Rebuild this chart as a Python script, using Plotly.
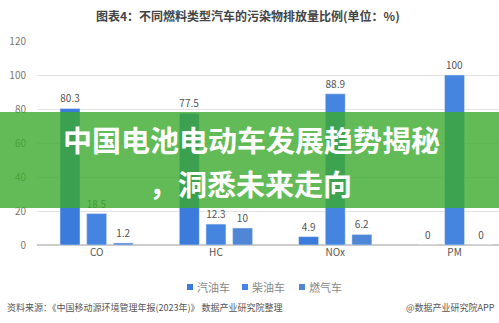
import plotly.graph_objects as go

categories = ["CO", "HC", "NOx", "PM"]
series_names = ["汽油车", "柴油车", "燃气车"]
gasoline = [80.3, 77.5, 4.9, 0]
diesel = [18.5, 12.3, 88.9, 100]
gas = [1.2, 10, 6.2, 0]
colors = ["#3a7bdc", "#4585e0", "#4f87d6"]
y_ticks = [0, 20, 40, 60, 80, 100, 120]

W, H = 499, 323
L, R, T, B = 37, 0, 41, 78
pw, ph = W - L - R, H - T - B

font_cn = "Noto Sans CJK SC, Noto Sans, sans-serif"


def px(x):
    return (x - L) / pw


def py(y):
    return (T + ph - y) / ph


fig = go.Figure()
for name, vals, col in zip(series_names, [gasoline, diesel, gas], colors):
    fig.add_trace(go.Bar(
        x=categories, y=vals, name=name, marker_color=col,
        text=[f"{v:g}" for v in vals], textposition="outside",
        textfont=dict(size=10, color="#555555", family=font_cn),
        cliponaxis=False, showlegend=False,
    ))

fig.update_layout(
    width=W, height=H,
    margin=dict(l=L, r=R, t=T, b=B),
    paper_bgcolor="white", plot_bgcolor="white",
    barmode="group", bargap=0.33, bargroupgap=0.25,
    font=dict(family=font_cn, color="#666666"),
    showlegend=False,
    xaxis=dict(range=[-0.5, -0.5 + pw / 119.3], showgrid=False,
               tickfont=dict(size=10, color="#555555"), showline=False,
               ticks=""),
    yaxis=dict(range=[0, 120], tickvals=y_ticks, showgrid=True,
               gridcolor="#e3e3e3", gridwidth=1, zeroline=True,
               zerolinecolor="#cccccc",
               tickfont=dict(size=10, color="#777777"),
               ticklabelstandoff=10),
)

# Legend (manual, compact)
legend_x = [190, 245, 302]
for name, col, lx in zip(series_names, colors, legend_x):
    fig.add_shape(type="rect", xref="paper", yref="paper",
                  x0=px(lx - 3), x1=px(lx + 3), y0=py(290), y1=py(284),
                  fillcolor=col, line=dict(width=0))
    fig.add_annotation(text=name, xref="paper", yref="paper",
                       x=px(lx + 5), y=py(287), xanchor="left", yanchor="middle",
                       showarrow=False,
                       font=dict(size=11, color="#888888", family=font_cn))

# Title
fig.add_annotation(
    text="<b>图表4：不同燃料类型汽车的污染物排放量比例(单位：%)</b>",
    xref="paper", yref="paper", x=px(248), y=py(15),
    xanchor="center", yanchor="middle",
    showarrow=False, font=dict(size=12, color="#444444", family=font_cn),
)

# Overlay banner
fig.add_shape(
    type="rect", xref="paper", yref="paper",
    x0=-L / pw - 0.01, x1=1.01,
    y0=py(208), y1=py(112),
    fillcolor="rgba(60,170,45,0.8)", line=dict(width=0), layer="above",
)
fig.add_annotation(
    text="<b>中国电池电动车发展趋势揭秘</b>",
    xref="paper", yref="paper", x=px(251), y=py(139),
    xanchor="center", yanchor="middle", borderpad=0,
    showarrow=False, font=dict(size=29, color="white", family=font_cn),
)
fig.add_annotation(
    text="<b>，洞悉未来走向</b>",
    xref="paper", yref="paper", x=px(250), y=py(183),
    xanchor="center", yanchor="middle", borderpad=0,
    showarrow=False, font=dict(size=29, color="white", family=font_cn),
)

# Source
fig.add_annotation(
    text="资料来源：《中国移动源环境管理年报(2023年)》 数据产业研究院整理",
    xref="paper", yref="paper", x=px(5), xanchor="left",
    y=py(307), yanchor="middle", showarrow=False,
    font=dict(size=9, color="#555555", family=font_cn),
)
fig.add_annotation(
    text="@数据产业研究院APP",
    xref="paper", yref="paper", x=px(497), xanchor="right",
    y=py(307), yanchor="middle", showarrow=False,
    font=dict(size=9, color="#555555", family=font_cn),
)

fig.write_html("out.html")
